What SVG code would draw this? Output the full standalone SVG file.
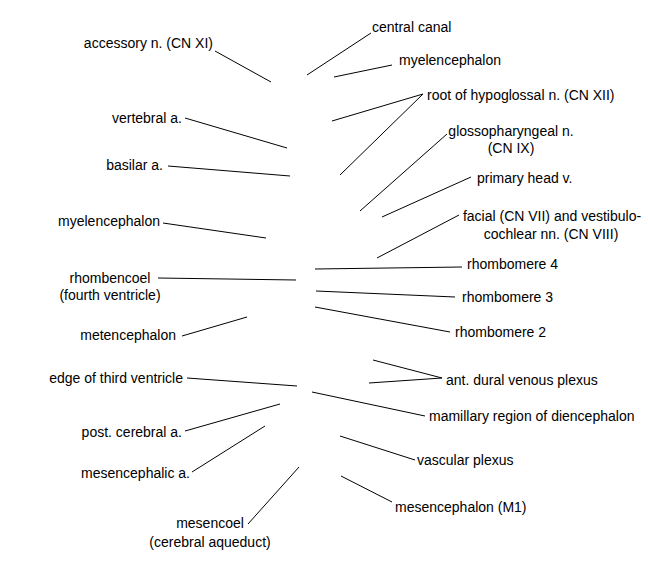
<svg xmlns="http://www.w3.org/2000/svg" width="648" height="576" viewBox="0 0 648 576">
<style>
text{font-family:"Liberation Sans",Arial,sans-serif;font-size:14px;fill:#000}
.e{text-anchor:end}
.m{text-anchor:middle}
#connectors line{stroke:#000;stroke-width:1;fill:none}
</style>
<rect width="648" height="576" fill="#fff"/>
<g id="connectors">
<line x1="215" y1="51" x2="271" y2="82"/>
<line x1="371" y1="33" x2="307" y2="75"/>
<line x1="392" y1="65" x2="334" y2="77"/>
<line x1="423" y1="94" x2="332" y2="121"/>
<line x1="423" y1="94" x2="340" y2="175"/>
<line x1="185" y1="118" x2="287" y2="148"/>
<line x1="168" y1="166" x2="290" y2="176"/>
<line x1="447" y1="134" x2="360" y2="211"/>
<line x1="471" y1="177" x2="382" y2="217"/>
<line x1="459" y1="215" x2="377" y2="258"/>
<line x1="163" y1="223" x2="266" y2="238"/>
<line x1="462" y1="267" x2="315" y2="269"/>
<line x1="158" y1="278" x2="296" y2="280"/>
<line x1="455" y1="297" x2="316" y2="291"/>
<line x1="450" y1="332" x2="315" y2="307"/>
<line x1="182" y1="336" x2="247" y2="317"/>
<line x1="442" y1="378" x2="373" y2="360"/>
<line x1="442" y1="378" x2="369" y2="383"/>
<line x1="187" y1="378" x2="297" y2="386"/>
<line x1="425" y1="416" x2="312" y2="392"/>
<line x1="185" y1="431" x2="280" y2="404"/>
<line x1="192" y1="472" x2="265" y2="426"/>
<line x1="415" y1="460" x2="340" y2="436"/>
<line x1="392" y1="502" x2="341" y2="476"/>
<line x1="248" y1="524" x2="299" y2="467"/>
</g>
<g id="accessory"><text class="e" x="213" y="48">accessory n. (CN XI)</text></g>
<g id="central-canal"><text x="372" y="32">central canal</text></g>
<g id="myelencephalon-r"><text x="399" y="65">myelencephalon</text></g>
<g id="hypoglossal"><text x="427" y="100">root of hypoglossal n. (CN XII)</text></g>
<g id="vertebral"><text class="e" x="182" y="123">vertebral a.</text></g>
<g id="glossopharyngeal"><text class="m" x="511" y="136">glossopharyngeal n.</text><text class="m" x="511" y="153">(CN IX)</text></g>
<g id="basilar"><text class="e" x="163" y="170">basilar a.</text></g>
<g id="primary-head-v"><text x="477" y="183">primary head v.</text></g>
<g id="facial"><text class="m" x="552" y="221">facial (CN VII) and vestibulo-</text><text class="m" x="551" y="239">cochlear nn. (CN VIII)</text></g>
<g id="myelencephalon-l"><text class="e" x="160" y="226">myelencephalon</text></g>
<g id="rhombomere4"><text x="467" y="269">rhombomere 4</text></g>
<g id="rhombencoel"><text class="m" x="110" y="283">rhombencoel</text><text class="m" x="110" y="300">(fourth ventricle)</text></g>
<g id="rhombomere3"><text x="462" y="302">rhombomere 3</text></g>
<g id="rhombomere2"><text x="455" y="337">rhombomere 2</text></g>
<g id="metencephalon"><text class="e" x="176" y="340">metencephalon</text></g>
<g id="ant-dural"><text x="446" y="385">ant. dural venous plexus</text></g>
<g id="edge-third"><text class="e" x="183" y="383">edge of third ventricle</text></g>
<g id="mamillary"><text x="429" y="421">mamillary region of diencephalon</text></g>
<g id="post-cerebral"><text class="e" x="182" y="437">post. cerebral a.</text></g>
<g id="vascular-plexus"><text x="417" y="465">vascular plexus</text></g>
<g id="mesencephalic-a"><text class="e" x="190" y="478">mesencephalic a.</text></g>
<g id="mesencephalon"><text x="395" y="512">mesencephalon (M1)</text></g>
<g id="mesencoel"><text class="m" x="210" y="528">mesencoel</text><text class="m" x="210" y="547">(cerebral aqueduct)</text></g>
</svg>
